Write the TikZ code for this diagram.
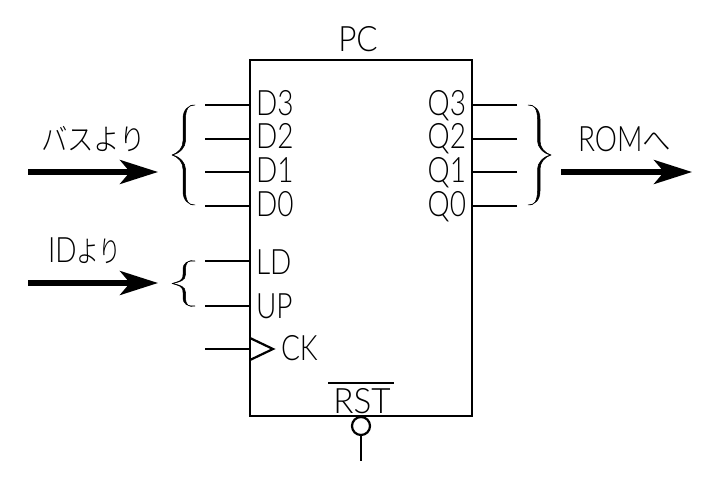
\documentclass[tikz,border=0pt]{standalone}
\usepackage{fontspec}
\setmainfont{Lato}[UprightFont=* Light]
\newfontfamily\jpfont{Noto Sans CJK JP}[UprightFont=* Light]
\usetikzlibrary{arrows.meta}
\newcommand{\nar}[1]{\scalebox{0.8}[1]{#1}}
\newcommand{\jpt}[2]{\scalebox{#1}[1]{\jpfont\fontsize{30}{30}\selectfont #2}}
% tapered brace: tip at the origin, opening to the right; half height #1, straight part from #2 to #3
\newcommand{\tbrace}[3]{
  \fill[black,draw=black,line width=0.5pt,line join=round] (23,-#1)
    .. controls (16,-#1) and (11,{-#3-9}) .. (11,-#3) -- (11,-#2)
    .. controls (11,{-#2+7}) and (6,-2) .. (0,0)
    .. controls (6,2) and (11,{#2-7}) .. (11,#2) -- (11,#3)
    .. controls (11,{#3+9}) and (16,#1) .. (23,#1)
    .. controls (17,{#1+1}) and (13.5,{#3+10}) .. (13.5,#3) -- (13.5,#2)
    .. controls (13.5,{#2-6}) and (8,1.5) .. (0,0)
    .. controls (8,-1.5) and (13.5,{-#2+6}) .. (13.5,-#2) -- (13.5,-#3)
    .. controls (13.5,{-#3-10}) and (17,{-#1-1}) .. (23,-#1) -- cycle;
}
\tikzset{
  lbl/.style={inner sep=0pt,outer sep=0pt,font=\fontsize{35}{35}\selectfont,anchor=base west,text=black},
  lblr/.style={lbl,anchor=base east},
  lblc/.style={lbl,anchor=base},
  boxline/.style={line width=2.4pt,draw=black},
  stub/.style={line width=2.2pt,draw=black},
  bigarrow/.style={line width=5.2pt,draw=black,-{Stealth[length=38pt,width=24pt,inset=10pt]}}
}
\begin{document}
\begin{tikzpicture}[x=1pt,y=-1pt]
\useasboundingbox (0,0) rectangle (720,489);
\node[boxline,draw,rectangle,minimum width=222pt,minimum height=356pt,inner sep=0pt,outer sep=0pt] (box) at (361,238) {};
% input and output stubs
\foreach \n/\y in {d3/105,d2/139,d1/172,d0/206,ld/261,up/306,ck/349}{
  \coordinate (\n) at (205,\y);
  \draw[stub] (\n) -- (\n -| box.west);
}
\foreach \n/\y in {q3/105,q2/139,q1/172,q0/206}{
  \coordinate (\n) at (517,\y);
  \draw[stub] (\n) -- (\n -| box.east);
}
% pin labels
\node[lblc] (pc) at (358,52) {\scalebox{0.9}[1]{PC}};
\node[lbl] (td3) at (256,116) {\nar{D3}};
\node[lbl] (td2) at (256,149) {\nar{D2}};
\node[lbl] (td1) at (256,183) {\nar{D1}};
\node[lbl] (td0) at (256,216) {\nar{D0}};
\node[lbl] (tld) at (256,274) {\nar{LD}};
\node[lbl] (tup) at (256,318) {\nar{UP}};
\node[lbl] (tck) at (281,360) {\nar{CK}};
\node[lblr] (tq3) at (466,116) {\nar{Q3}};
\node[lblr] (tq2) at (466,149) {\nar{Q2}};
\node[lblr] (tq1) at (466,183) {\nar{Q1}};
\node[lblr] (tq0) at (466,216) {\nar{Q0}};
\node[lblc] (trst) at (362,413) {\scalebox{0.95}[1]{RST}};
\coordinate (ol) at (328,383);
\coordinate (or) at (394,383);
\draw[line width=2.4pt] (ol) -- (or);
% clock triangle
\coordinate (cka) at (250,338);
\coordinate (ckb) at (273,349);
\coordinate (ckc) at (250,360);
\draw[stub] (cka) -- (ckb) -- (ckc);
% reset bubble
\node[draw=black,line width=2.2pt,circle,minimum size=18pt,inner sep=0pt,outer sep=0pt] (bub) at (361,426) {};
\coordinate (rstend) at (361,461);
\draw[stub] (bub) -- (rstend);
% braces
\begin{scope}[shift={(172,155)}] \tbrace{50}{14}{36} \end{scope}
\begin{scope}[shift={(172,283.5)}] \tbrace{22.5}{9}{13} \end{scope}
\begin{scope}[shift={(551,155)},xscale=-1] \tbrace{50}{14}{36} \end{scope}
% big arrows
\coordinate (a1s) at (28,172); \coordinate (a1e) at (158,172);
\coordinate (a2s) at (28,283); \coordinate (a2e) at (158,283);
\coordinate (a3s) at (561,172); \coordinate (a3e) at (692,172);
\draw[bigarrow] (a1s) -- (a1e);
\draw[bigarrow] (a2s) -- (a2e);
\draw[bigarrow] (a3s) -- (a3e);
% arrow labels
\node[lbl] (bus) at (41,151) {\jpt{0.88}{バスより}};
\node[lbl] (id) at (48,262) {\nar{ID}\jpt{0.76}{より}};
\node[lbl] (rom) at (578,152) {\nar{ROM}\jpt{0.95}{へ}};
\end{tikzpicture}
\end{document}
